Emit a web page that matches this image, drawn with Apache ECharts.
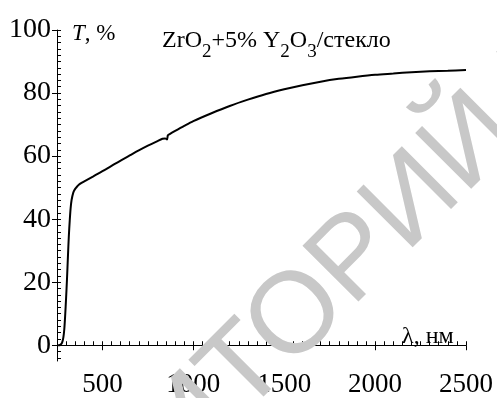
<!DOCTYPE html>
<html>
<head>
<meta charset="utf-8">
<script src="https://cdn.jsdelivr.net/npm/echarts@6/dist/echarts.min.js"></script>
<style>
  html, body { margin: 0; padding: 0; background: #fff; }
  #chart { width: 497px; height: 398px; }
</style>
</head>
<body>
<div id="chart"></div>
<script>
// Transmission spectrum of a ZrO2 + 5% Y2O3 film on glass
const wavelength = [250, 260, 270, 278, 285, 290, 295, 300, 305, 310, 315, 320, 325, 330, 340, 350, 360, 370, 385, 400,
  450, 500, 550, 600, 650, 700, 750, 800, 830, 845, 855, 860, 870, 900, 950, 1000, 1100, 1200, 1300, 1400,
  1500, 1600, 1700, 1800, 1900, 2000, 2100, 2200, 2300, 2400, 2500];
const transmission = [0, 0, 0.2, 0.8, 2.5, 5, 9.5, 15, 21, 28, 34.5, 39.5, 43.5, 46, 48.5, 49.6, 50.3, 50.9, 51.5, 52,
  53.6, 55.2, 56.9, 58.6, 60.2, 61.8, 63.3, 64.7, 65.5, 65.6, 65.3, 66.6, 67.0, 68.0, 69.6, 71.1, 73.6, 75.9, 77.9, 79.7,
  81.2, 82.5, 83.6, 84.5, 85.2, 85.8, 86.2, 86.6, 86.9, 87.1, 87.3];

const xTickLabels = [500, 1000, 1500, 2000, 2500];
const yTickLabels = [0, 20, 40, 60, 80, 100];

const xRange = [250, 2500];
const yRange = [-5, 100];

const xMinor = [];
for (let v = 250; v <= 2500; v += 50) xMinor.push(v);
const yMinor = [];
for (let v = -4; v <= 100; v += 2) yMinor.push(v);

const serif = 'Liberation Serif';
const black = '#000';
const plain = v => String(v);

const chart = echarts.init(document.getElementById('chart'), null, { renderer: 'canvas' });

const majorX = {
  type: 'value', position: 'bottom', min: xRange[0], max: xRange[1],
  axisLine: { show: true, lineStyle: { color: black, width: 1 } },
  axisTick: { show: true, inside: false, length: 5, customValues: xTickLabels, lineStyle: { color: black } },
  axisLabel: { customValues: xTickLabels, formatter: plain, color: black, fontFamily: serif, fontSize: 27, margin: 10 },
  splitLine: { show: false }
};
const minorX = {
  type: 'value', position: 'bottom', min: xRange[0], max: xRange[1],
  axisLine: { show: false },
  axisTick: { show: true, inside: true, length: 4, customValues: xMinor, lineStyle: { color: black } },
  axisLabel: { show: false },
  splitLine: { show: false }
};
const majorY = {
  type: 'value', position: 'left', min: yRange[0], max: yRange[1],
  axisLine: { show: true, lineStyle: { color: black, width: 1 } },
  axisTick: { show: true, inside: false, length: 5, customValues: yTickLabels, lineStyle: { color: black } },
  axisLabel: { customValues: yTickLabels, formatter: plain, color: black, fontFamily: serif, fontSize: 28, margin: 6 },
  splitLine: { show: false }
};
const minorY = {
  type: 'value', position: 'left', min: yRange[0], max: yRange[1],
  axisLine: { show: false },
  axisTick: { show: true, inside: true, length: 4, customValues: yMinor, lineStyle: { color: black } },
  axisLabel: { show: false },
  splitLine: { show: false }
};

// light diagonal stamp across the plot
const stampColor = '#c8c8c8';
const stampFont = { fontFamily: 'Liberation Sans', fontSize: 115, fontWeight: 'normal' };
const stampAt = { x: 220, y: 395, rotation: Math.PI / 4 };

chart.setOption({
  animation: false,
  backgroundColor: '#fff',
  grid: { left: 57, right: 31, top: 30, bottom: 37, containLabel: false },
  xAxis: [majorX, minorX],
  yAxis: [majorY, minorY],
  series: [{
    type: 'line',
    xAxisIndex: 0, yAxisIndex: 0,
    data: wavelength.map((w, i) => [w, transmission[i]]),
    showSymbol: false,
    smooth: 0.3,
    lineStyle: { color: black, width: 2 },
    z: 3
  }],
  graphic: [
    Object.assign({ type: 'text', z: 1, silent: true,
      style: Object.assign({ text: 'ТОРИЙ ГГТУ', fill: stampColor, align: 'left', verticalAlign: 'middle' }, stampFont) }, stampAt),
    Object.assign({ type: 'text', z: 1, silent: true,
      style: Object.assign({ text: 'РЕПОЗИ', fill: stampColor, align: 'right', verticalAlign: 'middle' }, stampFont) }, stampAt),
    {
      type: 'text', x: 72, y: 34, z: 5,
      style: {
        text: '{it|T}, %', align: 'left', verticalAlign: 'middle',
        fill: black, fontFamily: serif, fontSize: 23,
        rich: { it: { fontStyle: 'italic', fontFamily: serif, fontSize: 23, fill: black } }
      }
    },
    {
      type: 'text', x: 162, y: 29, z: 5,
      style: {
        text: '{n|ZrO}{s|2}{n|+5% Y}{s|2}{n|O}{s|3}{n|/стекло}',
        align: 'left', verticalAlign: 'top', fill: black,
        rich: {
          n: { fontFamily: serif, fontSize: 24, lineHeight: 23, verticalAlign: 'top', fill: black },
          s: { fontFamily: serif, fontSize: 19, lineHeight: 19, padding: [14, 0, 0, 0], verticalAlign: 'top', fill: black }
        }
      }
    },
    {
      type: 'text', x: 402, y: 337, z: 5,
      style: { text: 'λ, нм', align: 'left', verticalAlign: 'middle', fill: black, fontFamily: serif, fontSize: 24 }
    }
  ]
});
</script>
</body>
</html>
